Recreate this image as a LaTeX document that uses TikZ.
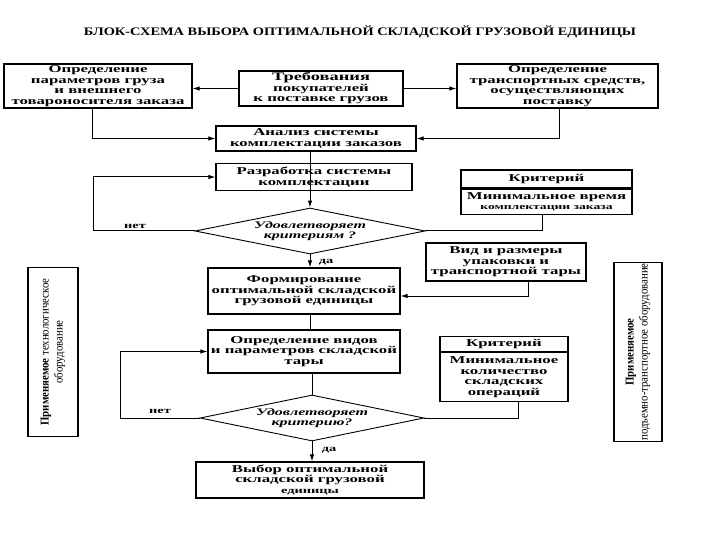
\documentclass[tikz,border=0pt]{standalone}
\usepackage{fontspec}
\setmainfont{Liberation Serif}
\newfontfamily\bxf[FakeStretch=1.6]{Liberation Serif}
\newfontfamily\ttlf[FakeStretch=1.25]{Liberation Serif}
\newfontfamily\vf[FakeStretch=0.9]{Liberation Serif}
\usetikzlibrary{arrows.meta,shapes.geometric,calc}
\begin{document}
\begin{tikzpicture}[x=1pt,y=-1pt,
  box/.style={draw,line width=1.1pt,inner sep=1pt,align=center,
    font=\bxf\bfseries\fontsize{10.5}{10.5}\selectfont},
  dia/.style={draw,line width=0.9pt,shape=diamond,aspect=5,inner sep=0pt,align=center,
    font=\bxf\bfseries\itshape\fontsize{10}{10.5}\selectfont},
  vbox/.style={draw,line width=1.1pt,rotate=90,inner sep=1pt,align=center,
    font=\vf\fontsize{12}{14}\selectfont},
  conn/.style={line width=1pt},
  arr/.style={conn,-{Latex[length=7pt,width=4.5pt]}},
  lbl/.style={font=\bxf\bfseries\fontsize{9}{9}\selectfont,inner sep=0pt}]
\useasboundingbox (0,0) rectangle (720,540);

\node[font=\ttlf\bfseries\fontsize{11.5}{12}\selectfont] (title) at (360,32)
  {БЛОК-СХЕМА ВЫБОРА ОПТИМАЛЬНОЙ СКЛАДСКОЙ ГРУЗОВОЙ ЕДИНИЦЫ};

\node[box,minimum width=188,minimum height=44] (b1) at (98,86)
  {Определение\\параметров груза\\и внешнего\\товароносителя заказа};
\node[box,minimum width=164,minimum height=35] (b2) at (321,88.5)
  {{\fontsize{11.5}{11}\selectfont Требования}\\покупателей\\к поставке грузов};
\node[box,minimum width=201,minimum height=44] (b3) at (557.5,86)
  {Определение\\транспортных средств,\\осуществляющих\\поставку};
\node[box,minimum width=200,minimum height=25] (b4) at (316,138.5)
  {Анализ системы\\комплектации заказов};
\node[box,minimum width=196,minimum height=27] (b5) at (314,177)
  {Разработка системы\\комплектации};

\node[box,minimum width=171,minimum height=18] (c1h) at (546.5,179) {Критерий};
\node[box,minimum width=171,minimum height=25,anchor=north] (c1b) at (c1h.south)
  {Минимальное время\\{\fontsize{8.5}{10}\selectfont комплектации заказа}};

\node[dia,minimum width=230,minimum height=46] (d1) at (310,231)
  {Удовлетворяет\\критериям ?};
\coordinate (n1) at (93,231);
\node[lbl] (no1) at (135,226) {нет};
\node[lbl] (yes1) at (326,262) {да};

\node[box,minimum width=160,minimum height=38] (vid) at (506,262)
  {Вид и размеры\\упаковки и\\транспортной тары};
\node[box,minimum width=192,minimum height=46] (b6) at (304,291)
  {Формирование\\оптимальной складской\\грузовой единицы};
\node[box,minimum width=192,minimum height=43] (b7) at (304,351.5)
  {Определение видов\\и параметров складской\\тары};

\node[box,minimum width=128,minimum height=15] (c2h) at (504,344) {Критерий};
\node[box,minimum width=128,minimum height=49,anchor=north] (c2b) at (c2h.south)
  {Минимальное\\количество\\складских\\операций};

\node[dia,minimum width=224,minimum height=46] (d2) at (312,418)
  {Удовлетворяет\\критерию?};
\coordinate (n2) at (120,418);
\node[lbl] (no2) at (160,411) {нет};
\node[lbl] (yes2) at (329,450) {да};

\node[box,minimum width=228,minimum height=36] (b8) at (310,480)
  {Выбор оптимальной\\складской грузовой\\{\fontsize{9}{10}\selectfont единицы}};

\node[vbox,minimum width=169,minimum height=50] (lb) at (53,352)
  {{\bfseries Применяемое} технологическое\\оборудование};
\node[vbox,minimum width=168,minimum height=48] (rb) at (638,352)
  {{\bfseries Применяемое}\\подъемно-транспортное оборудование};

% connectors
\draw[arr] (b2.west) -- (b2.west -| b1.east);
\draw[arr] (b2.east) -- (b2.east -| b3.west);
\draw[arr] ($(b1.south)+(-6,0)$) |- (b4.west);
\draw[arr] ($(b3.south)+(2,0)$) |- (b4.east);
\draw[conn] (b4.south -| d1.north) -- (b5.south -| d1.north);
\draw[arr] (b5.south -| d1.north) -- (d1.north);
\draw[arr] (d1.west) -- (n1) |- (b5.west);
\draw[conn] ($(c1b.south)+(-4,0)$) |- (d1.east);
\draw[arr] (d1.south) -- (d1.south |- b6.north);
\draw[arr] ($(vid.south)+(22,0)$) |- ($(b6.east)+(0,5)$);
\draw[conn] (b6.south -| d1.south) -- (b7.north -| d1.south);
\draw[conn] (b7.south -| d2.north) -- (d2.north);
\draw[arr] (d2.west) -- (n2) |- (b7.west);
\draw[conn] ($(c2b.south)+(14,0)$) |- (d2.east);
\draw[arr] (d2.south) -- (d2.south |- b8.north);
\end{tikzpicture}
\end{document}
